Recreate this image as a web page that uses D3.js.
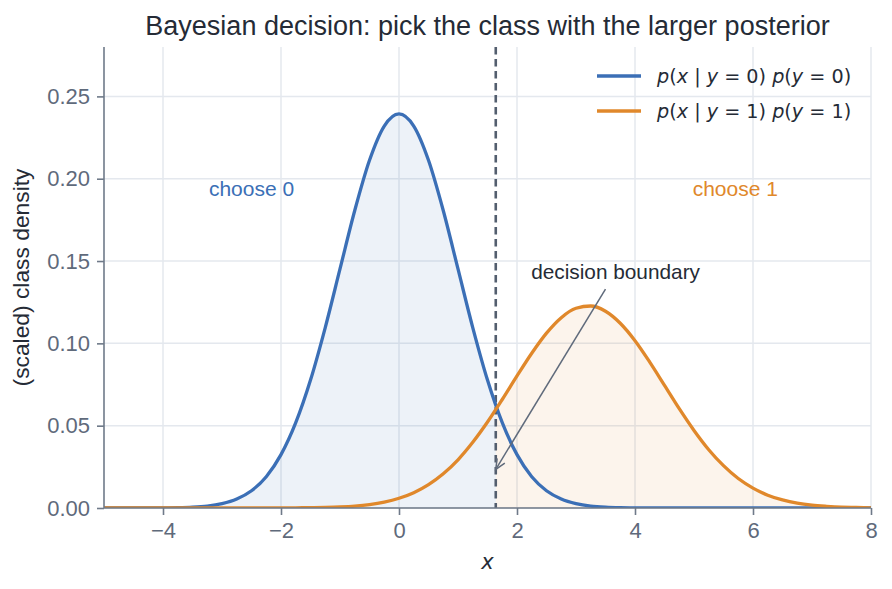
<!DOCTYPE html>
<html>
<head>
<meta charset="utf-8">
<script src="https://cdn.jsdelivr.net/npm/d3@7"></script>
<style>
  body { margin: 0; background: #fff; }
  text { font-family: "Liberation Sans", Arial, sans-serif; }
  .math { font-family: "DejaVu Sans", sans-serif; }
</style>
</head>
<body>
<div id="chart"></div>
<script>
'use strict';

// x grid the curves were read on
const xs = [-5, -4.75, -4.5, -4.25, -4, -3.75, -3.5, -3.25, -3, -2.75, -2.5, -2.25,
    -2, -1.75, -1.5, -1.25, -1, -0.75, -0.5, -0.25, 0, 0.25, 0.5, 0.75,
    1, 1.25, 1.5, 1.75, 2, 2.25, 2.5, 2.75, 3, 3.25, 3.5, 3.75,
    4, 4.25, 4.5, 4.75, 5, 5.25, 5.5, 5.75, 6, 6.25, 6.5, 6.75,
    7, 7.25, 7.5, 7.75, 8]

// p(x | y=0) p(y=0)
const class0 = [0, 0, 0, 0, 0.0001, 0.0002, 0.0005, 0.0012, 0.0027, 0.0055, 0.0105, 0.0190,
    0.0324, 0.0518, 0.0777, 0.1096, 0.1452, 0.1807, 0.2112, 0.2320, 0.2394, 0.2320, 0.2112, 0.1807,
    0.1452, 0.1096, 0.0777, 0.0518, 0.0324, 0.0190, 0.0105, 0.0055, 0.0027, 0.0012, 0.0005, 0.0002,
    0.0001, 0, 0, 0, 0, 0, 0, 0, 0, 0, 0, 0,
    0, 0, 0, 0, 0]

// p(x | y=1) p(y=1)
const class1 = [0, 0, 0, 0, 0, 0, 0, 0, 0, 0, 0, 0,
    0, 0.0001, 0.0002, 0.0004, 0.0007, 0.0012, 0.0021, 0.0036, 0.0059, 0.0093, 0.0142, 0.0208,
    0.0293, 0.0399, 0.0522, 0.0659, 0.0802, 0.0940, 0.1062, 0.1156, 0.1213, 0.1227, 0.1195, 0.1122,
    0.1016, 0.0886, 0.0745, 0.0603, 0.0471, 0.0354, 0.0257, 0.0179, 0.0121, 0.0078, 0.0049, 0.0029,
    0.0017, 0.0010, 0.0005, 0.0003, 0.0001]

const boundary = 1.64
const xTicks = [-4, -2, 0, 2, 4, 6, 8]
const yTicks = [0, 0.05, 0.10, 0.15, 0.20, 0.25]

const blue = '#3b6fb6', orange = '#e0882b'
const ink = '#252b36', muted = '#5f6a7b', spine = '#6f7a89', grid = '#e4e8ee'

let margin = { top: 47, right: 21, bottom: 81, left: 104 },
    width = 892 - margin.left - margin.right,
    height = 589 - margin.top - margin.bottom

let root = d3.select('#chart').append('svg')
    .attr('width', 892).attr('height', 589)

let svg = root.append('g')
    .attr('transform', `translate(${margin.left}, ${margin.top})`)

let xScale = d3.scaleLinear().domain([-5, 8]).range([0, width])
let yScale = d3.scaleLinear().domain([0, 0.28]).range([height, 0])

let defs = root.append('defs')
defs.append('clipPath').attr('id', 'plot')
    .append('rect').attr('width', width).attr('height', height)
defs.append('clipPath').attr('id', 'left-side')
    .append('rect').attr('width', xScale(boundary)).attr('height', height)
defs.append('clipPath').attr('id', 'right-side')
    .append('rect').attr('x', xScale(boundary))
    .attr('width', width - xScale(boundary)).attr('height', height)

// grid
svg.append('g').selectAll('line').data(xTicks).join('line')
    .attr('x1', d => xScale(d)).attr('x2', d => xScale(d))
    .attr('y1', 0).attr('y2', height)
    .attr('stroke', grid).attr('stroke-width', 1.5)
svg.append('g').selectAll('line').data(yTicks).join('line')
    .attr('y1', d => yScale(d)).attr('y2', d => yScale(d))
    .attr('x1', 0).attr('x2', width)
    .attr('stroke', grid).attr('stroke-width', 1.5)

let pts0 = xs.map((x, i) => [x, class0[i]])
let pts1 = xs.map((x, i) => [x, class1[i]])

let area = d3.area()
    .x(d => xScale(d[0])).y0(height).y1(d => yScale(d[1]))
    .curve(d3.curveMonotoneX)
let line = d3.line()
    .x(d => xScale(d[0])).y(d => yScale(d[1]))
    .curve(d3.curveMonotoneX)

svg.append('path').datum(pts0)
    .attr('clip-path', 'url(#left-side)')
    .attr('fill', blue).attr('fill-opacity', 0.09)
    .attr('d', area)
svg.append('path').datum(pts1)
    .attr('clip-path', 'url(#right-side)')
    .attr('fill', orange).attr('fill-opacity', 0.09)
    .attr('d', area)

// decision boundary
svg.append('line')
    .attr('x1', xScale(boundary)).attr('x2', xScale(boundary))
    .attr('y1', 0).attr('y2', height)
    .attr('stroke', '#535e6e').attr('stroke-width', 2.6)
    .attr('stroke-dasharray', '7.5,4.5')

let curves = svg.append('g').attr('clip-path', 'url(#plot)')
curves.append('path').datum(pts0)
    .attr('fill', 'none').attr('stroke', blue).attr('stroke-width', 3.3)
    .attr('d', line)
curves.append('path').datum(pts1)
    .attr('fill', 'none').attr('stroke', orange).attr('stroke-width', 3.3)
    .attr('d', line)

// axes
let xAxis = svg.append('g')
    .attr('transform', `translate(0, ${height})`)
    .call(d3.axisBottom(xScale).tickValues(xTicks).tickSize(7).tickPadding(7)
        .tickFormat(d => d < 0 ? '\u2212' + Math.abs(d) : d))
let yAxis = svg.append('g')
    .call(d3.axisLeft(yScale).tickValues(yTicks).tickSize(7).tickPadding(7)
        .tickFormat(d3.format('.2f')))
for (let ax of [xAxis, yAxis]) {
    ax.select('.domain').attr('stroke', spine).attr('stroke-width', 1.6)
    ax.selectAll('.tick line').attr('stroke', spine).attr('stroke-width', 1.6)
    ax.selectAll('.tick text').attr('fill', muted)
        .style('font-family', '"Liberation Sans", Arial, sans-serif')
        .style('font-size', '22px')
}
xAxis.select('.domain').attr('d', `M0,0H${width}`)
yAxis.select('.domain').attr('d', `M0,0V${height}`)

// annotation arrow
let ax0 = xScale(3.5), ay0 = yScale(0.133), ax1 = xScale(boundary), ay1 = yScale(0.0235)
let ang = Math.atan2(ay1 - ay0, ax1 - ax0)
svg.append('line')
    .attr('x1', ax0).attr('y1', ay0).attr('x2', ax1).attr('y2', ay1)
    .attr('stroke', muted).attr('stroke-width', 1.5)
let head = 11, spread = 0.42
svg.append('path')
    .attr('d', `M${ax1 - head * Math.cos(ang - spread)},${ay1 - head * Math.sin(ang - spread)}`
        + `L${ax1},${ay1}L${ax1 - head * Math.cos(ang + spread)},${ay1 - head * Math.sin(ang + spread)}`)
    .attr('fill', 'none').attr('stroke', muted).attr('stroke-width', 1.5)
svg.append('text')
    .attr('x', xScale(2.24)).attr('y', yScale(0.139))
    .attr('fill', ink).style('font-size', '20.8px')
    .text('decision boundary')

// region labels
svg.append('text')
    .attr('x', xScale(-2.5)).attr('y', yScale(0.194))
    .attr('text-anchor', 'middle').attr('dominant-baseline', 'central')
    .attr('fill', blue).style('font-size', '21px')
    .text('choose 0')
svg.append('text')
    .attr('x', xScale(5.7)).attr('y', yScale(0.194))
    .attr('text-anchor', 'middle').attr('dominant-baseline', 'central')
    .attr('fill', orange).style('font-size', '21px')
    .text('choose 1')

// legend
let legend = svg.append('g').attr('transform', `translate(${width - 274}, 29)`)
let legendItems = [{ color: blue, k: '0' }, { color: orange, k: '1' }]
legendItems.forEach((item, i) => {
    let g = legend.append('g').attr('transform', `translate(0, ${i * 35})`)
    g.append('line').attr('x1', 0).attr('x2', 44)
        .attr('stroke', item.color).attr('stroke-width', 3.6)
    let t = g.append('text').attr('class', 'math')
        .attr('x', 60).attr('y', 7)
        .attr('fill', ink).style('font-size', '19.2px')
    t.append('tspan').attr('font-style', 'italic').text('p')
    t.append('tspan').text('(')
    t.append('tspan').attr('font-style', 'italic').text('x')
    t.append('tspan').text(' | ')
    t.append('tspan').attr('font-style', 'italic').text('y')
    t.append('tspan').text(` = ${item.k}) `)
    t.append('tspan').attr('font-style', 'italic').text('p')
    t.append('tspan').text('(')
    t.append('tspan').attr('font-style', 'italic').text('y')
    t.append('tspan').text(` = ${item.k})`)
})

// titles
root.append('text')
    .attr('x', margin.left + width / 2).attr('y', 35)
    .attr('text-anchor', 'middle').attr('fill', ink)
    .style('font-size', '27px')
    .text('Bayesian decision: pick the class with the larger posterior')
root.append('text')
    .attr('transform', `translate(29, ${margin.top + height / 2}) rotate(-90)`)
    .attr('text-anchor', 'middle').attr('fill', ink)
    .style('font-size', '22.8px')
    .text('(scaled) class density')
root.append('text')
    .attr('x', margin.left + width / 2).attr('y', 569)
    .attr('text-anchor', 'middle').attr('fill', ink)
    .attr('class', 'math').attr('font-style', 'italic')
    .style('font-size', '21px')
    .text('x')
</script>
</body>
</html>
